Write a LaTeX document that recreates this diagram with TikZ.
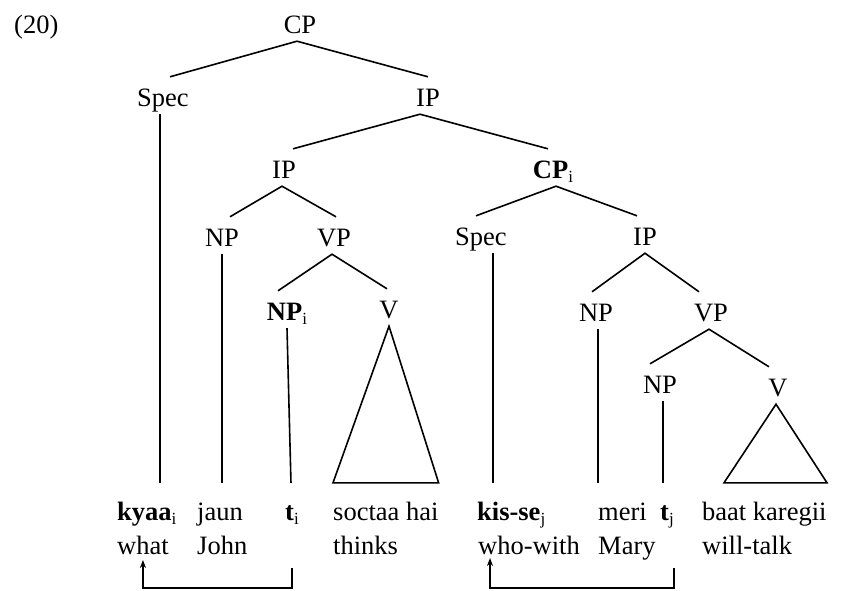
\documentclass[tikz,border=0pt]{standalone}
\usepackage{fontspec}
\setmainfont{Liberation Serif}
\usetikzlibrary{calc,arrows.meta}
\newcommand{\sbs}[1]{\raisebox{-4.5pt}{\fontsize{17}{17}\selectfont #1}}
\begin{document}
\begin{tikzpicture}[x=1pt,y=-1pt,
  font=\fontsize{26.5}{30}\selectfont,
  cat/.style={anchor=base,inner sep=0pt,text height=29pt,text depth=8pt},
  wordtop/.style={anchor=base west,inner sep=0pt,text height=37pt,text depth=6pt},
  wordbot/.style={anchor=base west,inner sep=0pt},
  branch/.style={line width=1.6pt},
  link/.style={line width=1.5pt,-{Stealth[length=8pt,width=6pt]}}]
\useasboundingbox (0,0) rectangle (846,590);
% label
\node[anchor=base west,inner sep=0pt] (ex) at (14,33) {(20)};
% categories
\node[cat] (cp)    at (300,33)  {CP};
\node[cat] (spec1) at (163,106) {Spec};
\node[cat] (ip1)   at (428,106) {IP};
\node[cat] (ip2)   at (284,178) {IP};
\node[cat] (cpi)   at (553,178) {\textbf{CP}\sbs{i}};
\node[cat] (np1)   at (222,246) {NP};
\node[cat] (vp1)   at (334,246) {VP};
\node[cat] (spec2) at (481,245) {Spec};
\node[cat] (ip3)   at (645,245) {IP};
\node[cat] (npi)   at (287,320) {\textbf{NP}\sbs{i}};
\node[cat] (v1)    at (389,318) {V};
\node[cat] (np2)   at (596,321) {NP};
\node[cat] (vp2)   at (711,321) {VP};
\node[cat] (np3)   at (660,393) {NP};
\node[cat] (v2)    at (778,396) {V};
% words, row 1
\node[wordtop] (kyaa)   at (117,520) {\textbf{kyaa}\sbs{i}};
\node[wordtop] (jaun)   at (197,520) {jaun};
\node[wordtop] (ti)     at (285,520) {\textbf{t}\sbs{i}};
\node[wordtop] (soctaa) at (333,520) {soctaa hai};
\node[wordtop] (kisse)  at (477,520) {\textbf{kis-se}\sbs{j}};
\node[wordtop] (meri)   at (598,520) {meri};
\node[wordtop] (tj)     at (660,520) {\textbf{t}\sbs{j}};
\node[wordtop] (baat)   at (702,520) {baat karegii};
% words, row 2
\node[wordbot] (what)    at (117,554) {what};
\node[wordbot] (john)    at (197,554) {John};
\node[wordbot] (thinks)  at (333,554) {thinks};
\node[wordbot] (whowith) at (478,554) {who-with};
\node[wordbot] (mary)    at (598,554) {Mary};
\node[wordbot] (willtalk) at (702,554) {will-talk};
% branches
\draw[branch] ([xshift=7pt]spec1.north) -- ([xshift=-3pt]cp.south) -- (ip1.north);
\draw[branch] ([xshift=9pt]ip2.north) -- ([xshift=-8pt]ip1.south) -- ([xshift=-5pt]cpi.north);
\draw[branch] ([xshift=8pt]np1.north) -- ([xshift=-2pt]ip2.south) -- ([xshift=2pt]vp1.north);
\draw[branch] ([xshift=-5pt]spec2.north) -- ([xshift=3pt]cpi.south) -- ([xshift=-8pt]ip3.north);
\draw[branch] ([xshift=-9pt]npi.north) -- ([xshift=-2pt]vp1.south) -- ([xshift=-2pt]v1.north);
\draw[branch] ([xshift=-4pt]np2.north) -- (ip3.south) -- ([xshift=-12pt]vp2.north);
\draw[branch] ([xshift=-10pt]np3.north) -- ([xshift=-2pt]vp2.south) -- ([xshift=-9pt]v2.north);
% vertical lines
\draw[branch] ([xshift=-3pt]spec1.south) -- ([xshift=-3pt]spec1.south |- kyaa.north);
\draw[branch] (np1.south) -- (np1.south |- jaun.north);
\draw[branch] (npi.south) -- ([xshift=-1pt]ti.north);
\draw[branch] ([xshift=12pt]spec2.south) -- ([xshift=12pt]spec2.south |- kisse.north);
\draw[branch] ([xshift=2pt]np2.south) -- ([xshift=2pt]np2.south |- meri.north);
\draw[branch] ([xshift=3pt]np3.south) -- ([xshift=3pt]np3.south |- tj.north);
% triangles
\draw[branch,line join=miter] (v1.south) -- (soctaa.north west) -- (soctaa.north east) -- cycle;
\draw[branch,line join=miter] ([xshift=-2pt]v2.south)
  -- ($(v2.south |- baat.north)+(-54,0)$) -- ($(v2.south |- baat.north)+(49,0)$) -- cycle;
% movement links
\draw[link] ($(ti.base)+(0,48)$) -- ++(0,20) -| ($(what.base)+(0,6)$);
\draw[link] ($(tj.base east)+(0,48)$) -- ++(0,20) -| ($(whowith.base west)+(12,4)$);
\end{tikzpicture}
\end{document}
